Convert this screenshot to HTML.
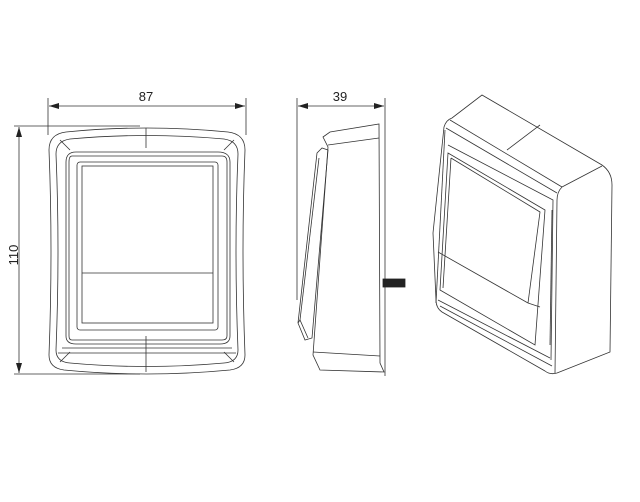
<!DOCTYPE html>
<html><head><meta charset="utf-8"><style>
html,body{margin:0;padding:0;background:#fff;}
svg{display:block;}
text{font-family:"Liberation Sans",sans-serif;font-size:13px;fill:#222;}
</style></head><body>
<svg width="640" height="502" viewBox="0 0 640 502" xmlns="http://www.w3.org/2000/svg">
<defs>
<marker id="a" markerWidth="10" markerHeight="6" refX="10" refY="3" orient="auto-start-reverse" markerUnits="userSpaceOnUse">
<path d="M0,0 L10,3 L0,6 Z" fill="#222"/></marker>
</defs>
<g stroke="#333" fill="none" stroke-width="0.8">
<!-- front view dims -->
<line x1="48" y1="98" x2="48" y2="135"/>
<line x1="246" y1="98" x2="246" y2="135"/>
<line x1="49" y1="106" x2="245" y2="106" marker-start="url(#a)" marker-end="url(#a)"/>
<line x1="14" y1="126" x2="140" y2="126"/>
<line x1="14" y1="374" x2="140" y2="374"/>
<line x1="19" y1="127" x2="19" y2="373" marker-start="url(#a)" marker-end="url(#a)"/>
<!-- front view body -->
<path d="M66,132 Q146,124 228,132 Q245,134 245,150 Q241,250 245,355 Q245,368 230,370 Q146,378 64,370 Q49,368 49,355 Q53,250 49,150 Q49,134 66,132 Z"/>
<path d="M70,139 Q146,132 224,139 Q238,141 238,154 Q234,250 238,350 Q238,362 224,363 Q146,370 70,363 Q56,362 56,350 Q60,250 56,154 Q56,141 70,139 Z"/>
<path d="M76,152 L218,152 Q230,152 230,162 L230,336 Q230,344 220,344 L76,344 Q66,344 66,336 L66,162 Q66,152 76,152 Z"/>
<path d="M72,156 L222,156 Q227,156 227,162 L227,336 Q227,340 222,340 L72,340 Q69,340 69,336 L69,162 Q69,156 72,156 Z"/>
<rect x="77" y="162" width="141" height="168" rx="3"/>
<rect x="82" y="166" width="131" height="157"/>
<line x1="82" y1="273" x2="213" y2="273"/>
<line x1="62" y1="348" x2="232" y2="348"/>
<line x1="58" y1="353" x2="236" y2="353"/>
<line x1="146" y1="128" x2="146" y2="148"/>
<line x1="146" y1="336" x2="146" y2="372"/>
<line x1="60" y1="140" x2="70" y2="150"/><line x1="234" y1="140" x2="224" y2="150"/>
<line x1="60" y1="362" x2="70" y2="352"/><line x1="234" y1="362" x2="224" y2="352"/>
<!-- side view dims -->
<line x1="297" y1="98" x2="297" y2="300"/>
<line x1="385" y1="98" x2="385" y2="376"/>
<line x1="298" y1="106" x2="384" y2="106" marker-start="url(#a)" marker-end="url(#a)"/>
<!-- side body -->
<path d="M323,137 L330,132 L379,124 L380,363 L384,372 L320,370 L313,355 L328,147 Z"/>
<line x1="328" y1="145" x2="379" y2="138"/>
<line x1="313" y1="352" x2="380" y2="356"/>
<path d="M317,153 L322,148 L328,150 L312,338 L305,340 L298,323 Z"/>
<line x1="319" y1="158" x2="300" y2="320"/>
<path d="M298,323 L300,320 L308,338"/>
<rect x="383" y="279" width="22" height="8" fill="#222" stroke="#222"/>
<!-- iso view -->
<path d="M482,95 L602,165 Q612,172 612,185 L610,352 L557,373 Q550,375 545,371 L442,312 Q436,308 436,300 L433,233 L444,127 Q446,120 452,118 Z"/>
<line x1="450" y1="120" x2="562" y2="187"/>
<path d="M562,187 Q557,192 557,200 L555,373"/>
<path d="M562,187 L602,166"/>
<line x1="507" y1="150" x2="540" y2="125"/>
<path d="M446,128 L557,193"/>
<path d="M445,130 L436,303"/>
<path d="M448,145 L553,200 L551,360"/>
<path d="M448,153 L545,210 L535,345 L440,290 Z"/>
<path d="M451,158 L540,212 L528,303"/>
<path d="M451,158 L443,288"/>
<line x1="438" y1="252" x2="528" y2="303"/>
<line x1="528" y1="303" x2="540" y2="307"/>
<line x1="438" y1="300" x2="550" y2="358"/>
<line x1="440" y1="306" x2="552" y2="366"/>
<line x1="552" y1="210" x2="550" y2="345"/>
</g>
<text x="146" y="101" text-anchor="middle">87</text>
<text x="340" y="101" text-anchor="middle">39</text>
<text x="14" y="255" text-anchor="middle" transform="rotate(-90 14 255)" dy="4">110</text>
</svg>
</body></html>
